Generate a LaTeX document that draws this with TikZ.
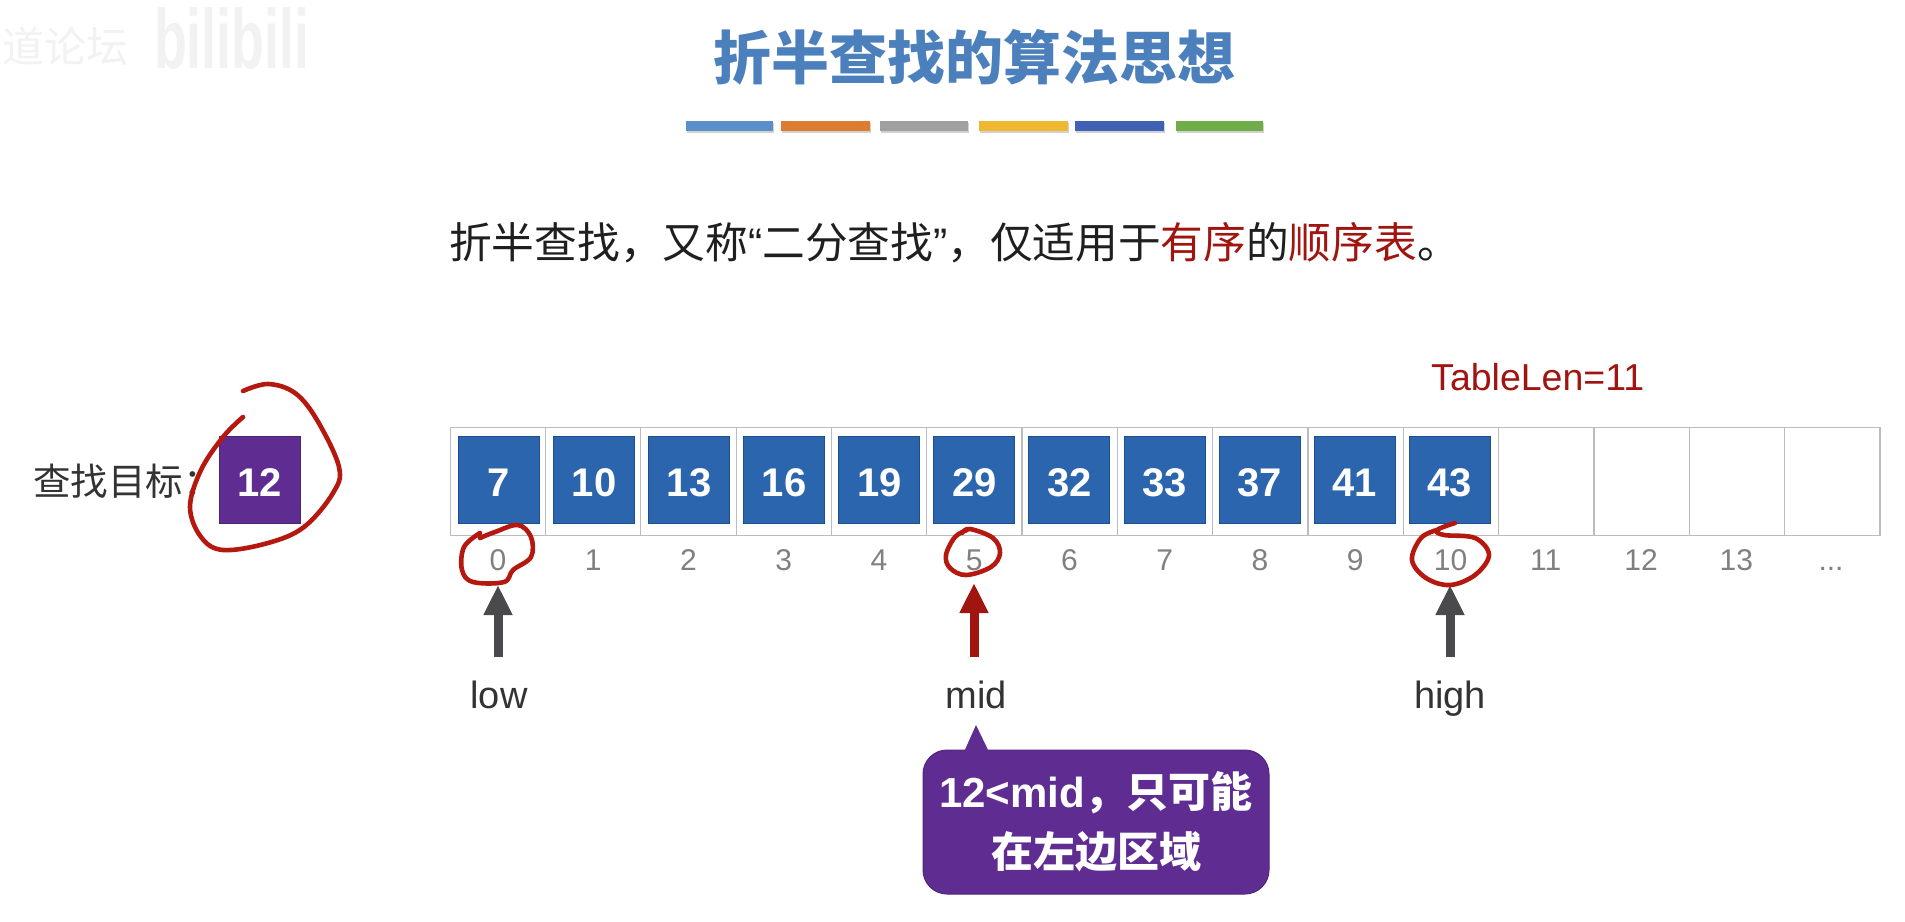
\documentclass[tikz,border=0pt]{standalone}
\usepackage{fontspec}
\setmainfont{Liberation Sans}
\newfontfamily\cjk{Noto Sans CJK SC}
\usetikzlibrary{arrows.meta}
\definecolor{titleblue}{HTML}{4C80BD}
\definecolor{cellblue}{HTML}{2B65AD}
\definecolor{celledge}{HTML}{1D4F8F}
\definecolor{tpurple}{HTML}{5F2D91}
\definecolor{inkred}{HTML}{B5180F}
\definecolor{darkred}{HTML}{A01510}
\definecolor{indexgray}{HTML}{808080}
\definecolor{arrowgray}{HTML}{4A4A4C}
\definecolor{gridgray}{HTML}{BCBCBC}
\newcommand{\fs}[1]{\fontsize{#1}{#1}\selectfont}
\tikzset{
  x=1pt,y=-1pt,
  cellbox/.style={draw=gridgray,line width=1.3pt,minimum width=95.33pt,minimum height=108pt,inner sep=0pt,anchor=north west},
  valbox/.style={fill=cellblue,draw=celledge,line width=1pt,minimum width=81pt,minimum height=87pt,inner sep=0pt,text=white,font=\fs{40}\bfseries,text height=33pt,text depth=0pt},
  idx/.style={text=indexgray,font=\fs{30},inner sep=0pt,anchor=base},
  ptrlabel/.style={text=black!80,font=\fs{38},inner sep=0pt,anchor=base},
  ptr/.style={line width=9pt,-{Triangle[width=27pt,length=30pt]}},
  ink/.style={draw=inkred,line width=4.6pt,line cap=round,line join=round},
  bar/.style={minimum height=10pt,inner sep=0pt,anchor=north west},
  pale/.style={text=black!5,inner sep=0pt},
}
\begin{document}
\begin{tikzpicture}
\useasboundingbox (0,0) rectangle (1905,921);
\fill[white] (0,0) rectangle (1905,921);
% watermark
\node[pale,anchor=west,font=\cjk\fs{42}] (wm1) at (2,46) {道论坛};
\node[pale,anchor=west,font=\fs{84}\bfseries,xscale=.64] (wm2) at (154,38) {bilibili};
% title
\node[text=titleblue,font=\cjk\bfseries\fs{58},inner sep=0pt] (title) at (974,57) {折半查找的算法思想};
\foreach \n/\a/\b/\c in {b1/686/87/5B8FC9,b2/781/89/DD7C33,b3/880/88/A0A0A0,b4/979/89/EFB830,b5/1075/89/3F62B5,b6/1176/87/70AC48}{
  \definecolor{barc}{HTML}{\c}
  \fill[black!18] (\a+1,123) rectangle (\a+\b+1,133);
  \node[bar,fill=barc,minimum width=\b pt] (\n) at (\a,121) {};
}
% subtitle
\node[anchor=west,inner sep=0pt,text=black!88,font=\cjk\fs{42.7}] (sub) at (449,243)
 {折半查找，又称{\fontspec{Liberation Sans}“}二分查找{\fontspec{Liberation Sans}”}，仅适用于\textcolor{darkred}{有序}的\textcolor{darkred}{顺序表}。};
% target
\node[anchor=west,inner sep=0pt,text=black!80,font=\cjk\fs{37.5}] (tlabel) at (33,481) {查找目标：};
\node[valbox,fill=tpurple,draw=tpurple!80!black] (target) at (259.5,479.8) {12};
% table
\foreach \i in {0,...,14}{
  \node[cellbox] (cell\i) at ({449.5+95.33*\i},426.5) {};
}
\node[anchor=west,inner sep=0pt,text=darkred,font=\fs{37.5}] (tablelen) at (1431,377) {TableLen=11};
\foreach \v [count=\i from 0] in {7,10,13,16,19,29,32,33,37,41,43}{
  \node[valbox] (val\i) at ({499+95.07*\i},479.8) {\v};
}
\foreach \i in {0,...,13}{
  \node[idx] (idx\i) at ({498+95.25*\i},570) {\i};
}
\node[idx] (idxdots) at (1831,570) {...};
% pointers
\coordinate (lowbase) at (498,657);   \coordinate (lowtip) at (498,585);
\coordinate (midbase) at (974,657);   \coordinate (midtip) at (974,583);
\coordinate (highbase) at (1450,657); \coordinate (hightip) at (1450,585);
\draw[ptr,draw=arrowgray] (lowbase) -- (lowtip);
\draw[ptr,draw=darkred] (midbase) -- (midtip);
\draw[ptr,draw=arrowgray] (highbase) -- (hightip);
\node[ptrlabel] (low) at (499,708) {low};
\node[ptrlabel] (mid) at (976,708) {mid};
\node[ptrlabel] (high) at (1450,708) {high};
% callout
\coordinate (tailtip) at (976,725);
\coordinate (tailL) at (964,752);
\coordinate (tailR) at (989,752);
\node[fill=tpurple,draw=tpurple!85!black,line width=1pt,rounded corners=24pt,minimum width=346pt,minimum height=144pt,inner sep=0pt,align=center,text=white,font=\cjk\bfseries\fontsize{42}{60}\selectfont] (callout) at (1096,822)
 {{\fontspec{Liberation Sans Bold}12<mid}，只可能\\在左边区域};
\fill[tpurple] (tailL) -- (tailtip) -- (tailR) -- cycle;
% hand-drawn circles
\draw[ink] plot[smooth,tension=.6] coordinates {(243,391) (268,384) (295,393) (317,420) (339,467) (333,493) (304,527) (268,543) (223,550) (201,537) (190,507) (201,470) (223,437) (243,417)};
\draw[ink] plot[smooth,tension=.6] coordinates {(480,538) (495,532) (518,525) (531,537) (531,557) (513,570) (504,582) (473,582) (462,570) (464,547) (480,533)};
\draw[ink] plot[smooth,tension=.6] coordinates {(962,533) (970,529) (993,538) (1000,553) (991,567) (966,575) (950,568) (946,555) (955,537) (967,530)};
\draw[ink] plot[smooth,tension=.6] coordinates {(1455,523) (1437,530) (1444,535) (1475,538) (1489,555) (1475,575) (1450,585) (1426,578) (1412,560) (1421,538) (1437,530)};
\end{tikzpicture}
\end{document}
